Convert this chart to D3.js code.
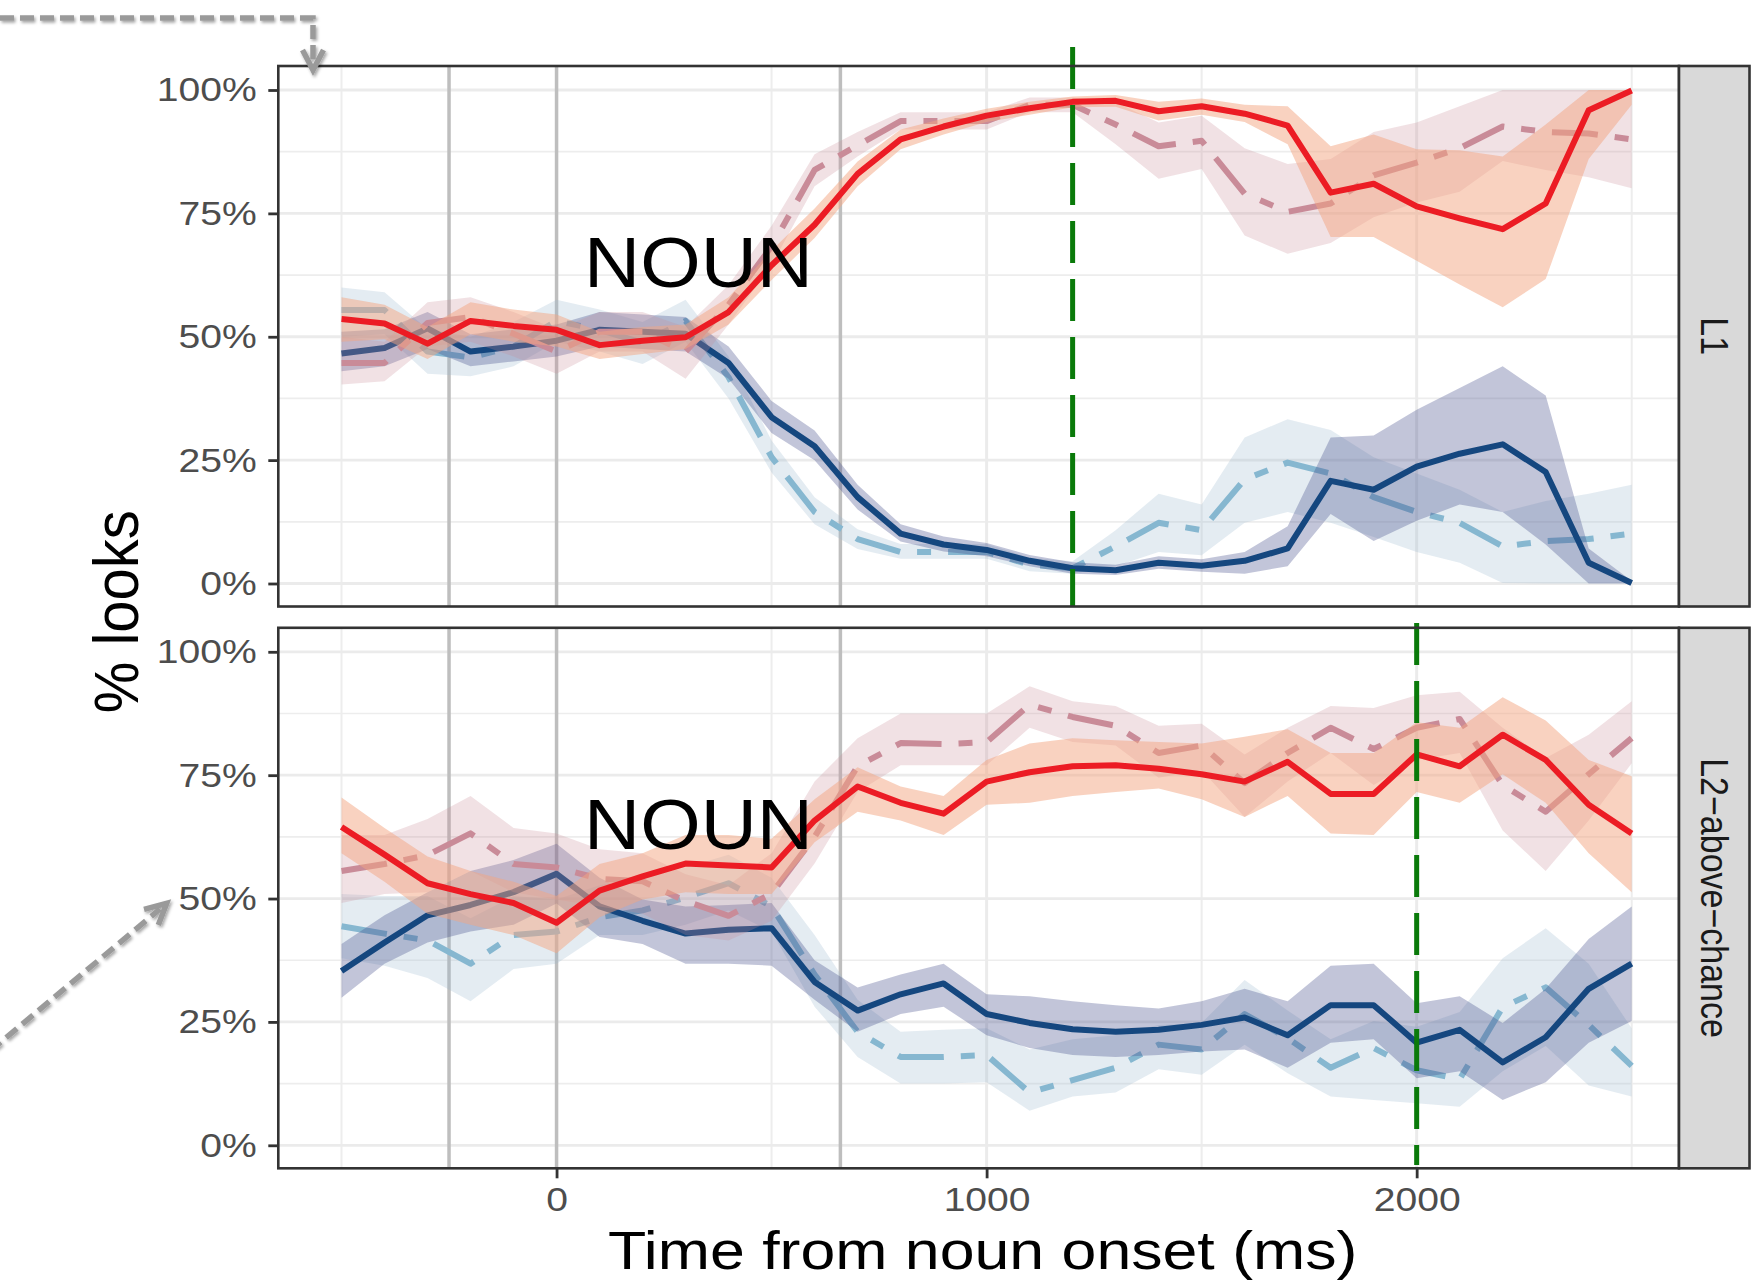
<!DOCTYPE html>
<html><head><meta charset="utf-8">
<script src="https://cdn.jsdelivr.net/npm/d3@7"></script>
<style>html,body{margin:0;padding:0;background:#fff;} svg{display:block;}</style>
</head><body>
<script>
// ---------- DATA ----------
const times = [-500,-400,-300,-200,-100,0,100,200,300,400,500,600,700,800,900,1000,1100,1200,1300,1400,1500,1600,1700,1800,1900,2000,2100,2200,2300,2400,2500];
const panelNames = ["L1", "L2\u2212above\u2212chance"];
const yTicks = [0,25,50,75,100];
const xTicks = [0,1000,2000];
const grayLines = [-250, 0, 660];
const greenLines = [1200, 2000];
const annotationText = "NOUN";

// L1 panel
const l1RedMean = [53.6,52.7,48.6,53.2,52.2,51.4,48.3,49.2,49.9,55,64.5,72.7,83,90,92.6,94.8,96.3,97.6,97.8,95.7,96.7,95.2,92.8,79.2,81,76.4,74,71.8,77,95.9,99.9];
const l1RedLo   = [49,49.5,45.5,50.5,49,48,45.5,46.5,47.5,52.5,61.5,70,80.5,88,91,93.5,95,96.5,96.6,93.8,95,93.5,89,70.2,70.2,65.4,60.6,56,61.7,86,97];
const l1RedHi   = [58,56.5,52,57,55.5,54.5,51,52,52.5,58,67.5,76,85.5,92,94.2,96.2,97.6,98.7,99,97.6,98.3,97,96.7,88.6,91,88,87.8,86.5,93,100,100];
const l1PinkMean = [44.7,44.7,52.8,54,50.6,47,51,51,47,56.5,68.3,83.8,88.8,93.7,93.7,93.7,97,97,93,88.6,89.7,79,75.3,77,82.7,85.3,88.2,92.6,91.5,91.2,90];
const l1PinkLo   = [40.3,41,48,49,46,42.5,47,47,41.5,52.5,64.5,80.5,86.5,92,92,92,95.5,95.5,89,82,84,70.5,66.8,69,74.2,77.2,79.4,85.6,83.8,82.3,80.1];
const l1PinkHi   = [50,49,57,58,55,51.5,55,55,52,60.5,72.5,87,91.5,95.5,95.5,95.5,98.5,98.5,97.5,93.4,94.8,88.2,85,86,91.5,93.4,96.7,100,100,100,100];
const l1NavyMean = [46.6,47.7,51.7,47,48,49.2,51.4,51,50.6,44.7,33.7,27.8,17.5,10.1,7.9,6.8,4.6,3.1,2.7,4.2,3.6,4.6,7.1,20.8,19,23.7,26.3,28.2,22.6,4.2,0.1];
const l1NavyLo   = [43,44,47.5,44,45,46,48,47.5,47,41.5,30.5,25,15,8.5,6.5,5.5,3.5,2,1.7,3,2.4,2,3.5,14.1,8.6,12.7,16,14.5,7.9,0,0];
const l1NavyHi   = [51,51.5,55,50.5,51.5,52.5,55,54.5,54,48,37,31,20,12,9.5,8.2,5.8,4.3,3.8,5.5,4.9,6.4,11.6,29.6,30,35.2,39.6,44,38.1,7.1,0.5];
const l1SkyMean = [55.4,55.4,47,45.8,48,53.2,51.4,48.8,53.2,41.8,25.6,14.5,9,6.4,6.4,6.4,3.8,3.1,7.5,12.3,10.8,21.1,24.5,22.3,17.5,14.5,12.3,7.5,8.6,9,10.1];
const l1SkyLo   = [50,50.5,42.5,42,44,49,47,44.5,49,37.5,22.5,12,7,5,5,5,2.5,2,3.5,6.4,5.7,12.3,14.5,12.3,9.4,6.4,4.2,0.1,0,0,0];
const l1SkyHi   = [60,59,51.5,50,53,57.5,55.5,53,57.5,46,29,17.5,11,8,8,8,5.2,4.5,10.8,18.2,16,29.6,33.3,31.1,25.6,22.3,19,14.5,16.7,18.2,20];

// L2-above-chance panel
const l2RedMean = [64.5,58.9,53.1,50.9,49.1,45.1,51.6,54.5,57.1,56.7,56.3,65.8,72.7,69.4,67.2,73.7,75.6,76.8,77,76.3,75.2,73.7,77.7,71.2,71.2,79.2,76.8,83.2,78.1,69,63.2];
const l2RedLo   = [59.2,53.4,46.9,44.7,42.6,38.9,46.2,49.8,51.3,50.9,50.9,61.4,67.6,65.8,62.9,69,69.4,70.8,71.6,72.3,70.1,66.5,70.8,63.2,62.9,71.6,69.4,75.2,69.4,59.2,51.3];
const l2RedHi   = [70.5,64.3,58.5,55.6,53.4,50.5,57,59.2,62.9,62.9,62.1,70.1,76.6,72.7,70.8,78.1,81.4,82.5,82.1,81.7,81.4,82.8,84.3,79.5,79.5,85.7,84.6,90.8,86.1,78.1,74.8];
const l2PinkMean = [55.6,57,58.8,63.2,57,56.3,54,53.5,49.5,46.5,51,62.5,76.8,81.5,81.3,81.7,89.3,86.8,85,79.5,81,73.4,79.5,84.6,80.3,84.6,86.4,73,67.6,75.2,82.5];
const l2PinkLo   = [49.1,50.9,51.3,55.6,51.3,49.8,48.4,46.9,42.6,41.5,45.5,57.1,71.6,77,77,77,84.6,81.7,81,74.5,76,66.5,73.7,79.5,73,78.1,79.5,63.8,55.6,65.8,77.4];
const l2PinkHi   = [62.9,62.9,66.1,70.8,64.3,63.2,60,59.2,54.9,52.7,59.2,73.7,82.5,87.5,87.5,87.5,93,90,89,85,85.4,79.2,84.6,89,88.6,91.2,91.9,84.6,78.5,83.2,90];
const l2NavyMean = [35.3,41.1,46.6,48.7,51.3,55,48.4,45.5,42.9,43.7,44,33.1,27.3,30.6,32.8,26.6,24.8,23.5,23,23.4,24.4,25.9,22.3,28.4,28.4,20.8,23.4,16.8,21.9,31.7,36.8];
const l2NavyLo   = [29.9,36.8,41.1,43.3,44.7,49,42.2,40.8,36.8,36.8,36.4,29.5,23,26.6,28.1,22.3,19.7,18.3,17.9,18.3,19,19.4,15.7,20.8,21.5,13.6,15,9.2,12.8,20.8,25.2];
const l2NavyHi   = [40.8,46.6,51.3,55.6,57.8,61.1,54.2,49.8,48.4,48.7,49.1,37.5,32,34.6,36.8,30.6,30.2,29.2,28.4,27.7,29.2,31.7,29.2,36.4,36.8,28.8,30.2,24.8,31.7,41.8,48.4];
const l2SkyMean = [44.4,42.9,41.5,36.8,42.6,43.3,46.2,47.6,50.2,53.1,48.4,34.6,23,17.9,17.9,18.3,10.7,13.2,15.7,20.4,19.4,26.6,21.7,15.7,19.7,15.2,13.4,28,32,24.4,16.1];
const l2SkyLo   = [37.9,36.4,33.9,29.2,35.7,36.8,42.6,42.6,44.7,47.6,43.3,28.1,17.9,12.5,12.5,12.8,7,9.9,10.7,15.4,14.3,20.4,14.6,9.9,9.2,8.5,7.8,15,20.1,12.1,9.9];
const l2SkyHi   = [50.9,50.5,50.5,46,50.5,49.8,52.7,54.2,56.3,58.9,54.2,42.6,29.5,23,23.4,23.7,19.4,21.5,22.3,24.4,24.8,33.5,27.3,21.5,25.2,24,27,37.9,44,36.8,23.7];

// ---------- STYLE / LAYOUT ----------
const W = 1764, H = 1280;
const FONT = "'Liberation Sans', Arial, Helvetica, sans-serif";
const PL = 278.3, PR = 1679, SR = 1749.5;
const STRETCH = 1.15;

const styles = {
  sky:  {line:"#86b7d0", fill:"#9ab8d0", fo:0.27, dash:"46 17 14 17"},
  navy: {line:"#15477f", fill:"#404a8a", fo:0.32, dash:null},
  pink: {line:"#c98b98", fill:"#c98b98", fo:0.26, dash:"46 17 14 17"},
  red:  {line:"#ec1c24", fill:"#f4a582", fo:0.50, dash:null}
};

const panels = [
  {name: panelNames[0], top:66, bottom:606.5, y100:90, y0:583.5, green:greenLines[0], gTop:47, gBot:606.5,
   series:[
     {key:"sky", mean:l1SkyMean, lo:l1SkyLo, hi:l1SkyHi},
     {key:"navy", mean:l1NavyMean, lo:l1NavyLo, hi:l1NavyHi},
     {key:"pink", mean:l1PinkMean, lo:l1PinkLo, hi:l1PinkHi},
     {key:"red", mean:l1RedMean, lo:l1RedLo, hi:l1RedHi}]},
  {name: panelNames[1], top:627.8, bottom:1168.3, y100:651.8, y0:1145.3, green:greenLines[1], gTop:623, gBot:1165,
   series:[
     {key:"sky", mean:l2SkyMean, lo:l2SkyLo, hi:l2SkyHi},
     {key:"navy", mean:l2NavyMean, lo:l2NavyLo, hi:l2NavyHi},
     {key:"pink", mean:l2PinkMean, lo:l2PinkLo, hi:l2PinkHi},
     {key:"red", mean:l2RedMean, lo:l2RedLo, hi:l2RedHi}]}
];

const svg = d3.select("body").append("svg").attr("width", W).attr("height", H)
  .style("font-family", FONT);
svg.append("rect").attr("width", W).attr("height", H).attr("fill", "#fff");

const defs = svg.append("defs");
const f = defs.append("filter").attr("id","sh").attr("x","-30%").attr("y","-30%").attr("width","160%").attr("height","160%");
f.append("feDropShadow").attr("dx",1.5).attr("dy",2).attr("stdDeviation",1.8).attr("flood-color","#000").attr("flood-opacity",0.35);

const x = d3.scaleLinear().domain([-647, 2610]).range([PL, PR]);

panels.forEach((p, pi) => {
  const y = d3.scaleLinear().domain([0, 100]).range([p.y0, p.y100]);
  const g = svg.append("g");
  const clipId = "clip" + pi;
  defs.append("clipPath").attr("id", clipId).append("rect")
    .attr("x", PL).attr("y", p.top).attr("width", PR - PL).attr("height", p.bottom - p.top);

  // minor grid
  g.selectAll(".hmin").data([12.5,37.5,62.5,87.5]).join("line")
    .attr("x1", PL).attr("x2", PR).attr("y1", d => y(d)).attr("y2", d => y(d))
    .attr("stroke", "#ededed").attr("stroke-width", 1.7);
  g.selectAll(".vmin").data([-500,500,1500,2500]).join("line")
    .attr("x1", d => x(d)).attr("x2", d => x(d)).attr("y1", p.top).attr("y2", p.bottom)
    .attr("stroke", "#ededed").attr("stroke-width", 2.0);
  // major grid
  g.selectAll(".hmaj").data(yTicks).join("line")
    .attr("x1", PL).attr("x2", PR).attr("y1", d => y(d)).attr("y2", d => y(d))
    .attr("stroke", "#ebebeb").attr("stroke-width", 2.8);
  g.selectAll(".vmaj").data(xTicks).join("line")
    .attr("x1", d => x(d)).attr("x2", d => x(d)).attr("y1", p.top).attr("y2", p.bottom)
    .attr("stroke", "#ebebeb").attr("stroke-width", 3.0);

  // gray reference lines
  g.selectAll(".gray").data(grayLines).join("line")
    .attr("x1", d => x(d)).attr("x2", d => x(d)).attr("y1", p.top).attr("y2", p.bottom)
    .attr("stroke", "#bebebe").attr("stroke-width", 3.5);

  // series
  const plot = g.append("g").attr("clip-path", `url(#${clipId})`);
  const area = d3.area().x((d, i) => x(times[i])).y0(d => y(d[0])).y1(d => y(d[1]));
  const line = d3.line().x((d, i) => x(times[i])).y(d => y(d));
  p.series.forEach(s => {
    const st = styles[s.key];
    plot.append("path").datum(s.lo.map((v, i) => [v, s.hi[i]]))
      .attr("d", area).attr("fill", st.fill).attr("fill-opacity", st.fo);
    plot.append("path").datum(s.mean).attr("d", line)
      .attr("fill", "none").attr("stroke", st.line).attr("stroke-width", 6)
      .attr("stroke-linejoin", "round").attr("stroke-linecap", "butt")
      .attr("stroke-dasharray", st.dash);
  });

  // green dashed line
  g.append("line").attr("x1", x(p.green)).attr("x2", x(p.green))
    .attr("y1", p.gTop).attr("y2", p.gBot)
    .attr("stroke", "#0a7a0a").attr("stroke-width", 5).attr("stroke-dasharray", "42 16");

  // NOUN annotation
  g.append("text").attr("transform", `translate(${x(330)},${y(60)}) scale(1.11,1)`)
    .attr("text-anchor", "middle").attr("font-size", 70).attr("fill", "#000").text(annotationText);

  // panel border
  g.append("rect").attr("x", PL).attr("y", p.top).attr("width", PR - PL).attr("height", p.bottom - p.top)
    .attr("fill", "none").attr("stroke", "#333333").attr("stroke-width", 2.6);

  // strip
  g.append("rect").attr("x", PR).attr("y", p.top).attr("width", SR - PR).attr("height", p.bottom - p.top)
    .attr("fill", "#d9d9d9").attr("stroke", "#333333").attr("stroke-width", 2.6);
  g.append("text").attr("transform", `translate(${(PR + SR) / 2},${(p.top + p.bottom) / 2}) scale(${STRETCH},1) rotate(90)`)
    .attr("text-anchor", "middle").attr("dy", "0.35em").attr("font-size", 34).attr("fill", "#1a1a1a").text(p.name);

  // y axis
  const ya = g.append("g").attr("transform", `translate(${PL},0)`)
    .call(d3.axisLeft(y).tickValues(yTicks).tickFormat(d => d + "%").tickSize(10).tickPadding(11.6));
  ya.select(".domain").remove();
  ya.selectAll(".tick line").attr("stroke", "#333333").attr("stroke-width", 2.8);
  ya.selectAll(".tick text").attr("font-size", 34).attr("fill", "#4d4d4d").attr("font-family", FONT)
    .attr("x", -21.6 / STRETCH).attr("transform", `scale(${STRETCH},1)`);

  if (pi === panels.length - 1) {
    const xa = g.append("g").attr("transform", `translate(0,${p.bottom})`)
      .call(d3.axisBottom(x).tickValues(xTicks).tickFormat(d3.format("d")).tickSize(10).tickPadding(8.7));
    xa.select(".domain").remove();
    xa.selectAll(".tick line").attr("stroke", "#333333").attr("stroke-width", 2.8);
    xa.selectAll(".tick text").attr("font-size", 34).attr("fill", "#4d4d4d").attr("font-family", FONT)
      .attr("transform", `scale(${STRETCH},1)`);
  }
});

// axis titles
svg.append("text").attr("transform", `translate(${(PL + PR) / 2 + 4},1268.5) scale(1.16,1)`)
  .attr("text-anchor", "middle").attr("font-size", 54).attr("fill", "#000").text("Time from noun onset (ms)");
svg.append("text").attr("transform", `translate(138.3,611.7) scale(1.08,1) rotate(-90)`)
  .attr("text-anchor", "middle").attr("font-size", 58).attr("fill", "#000").text("% looks");

// decorative arrows (from the source figure)
const arrows = svg.append("g").attr("filter", "url(#sh)").attr("fill", "none")
  .attr("stroke", "#9a9a9a").attr("stroke-width", 5.5);
arrows.append("path").attr("d", "M0,18 H313 V64").attr("stroke-dasharray", "14 6");
arrows.append("path").attr("d", "M302.5,50 L313,70 L323.5,50").attr("stroke-linejoin", "miter");
arrows.append("path").attr("d", "M-10,1051 L160,909").attr("stroke-dasharray", "14 7");
arrows.append("path").attr("d", "M144,909.3 L166.7,903.3 L158.3,925").attr("stroke-linejoin", "miter");
</script>
</body></html>
